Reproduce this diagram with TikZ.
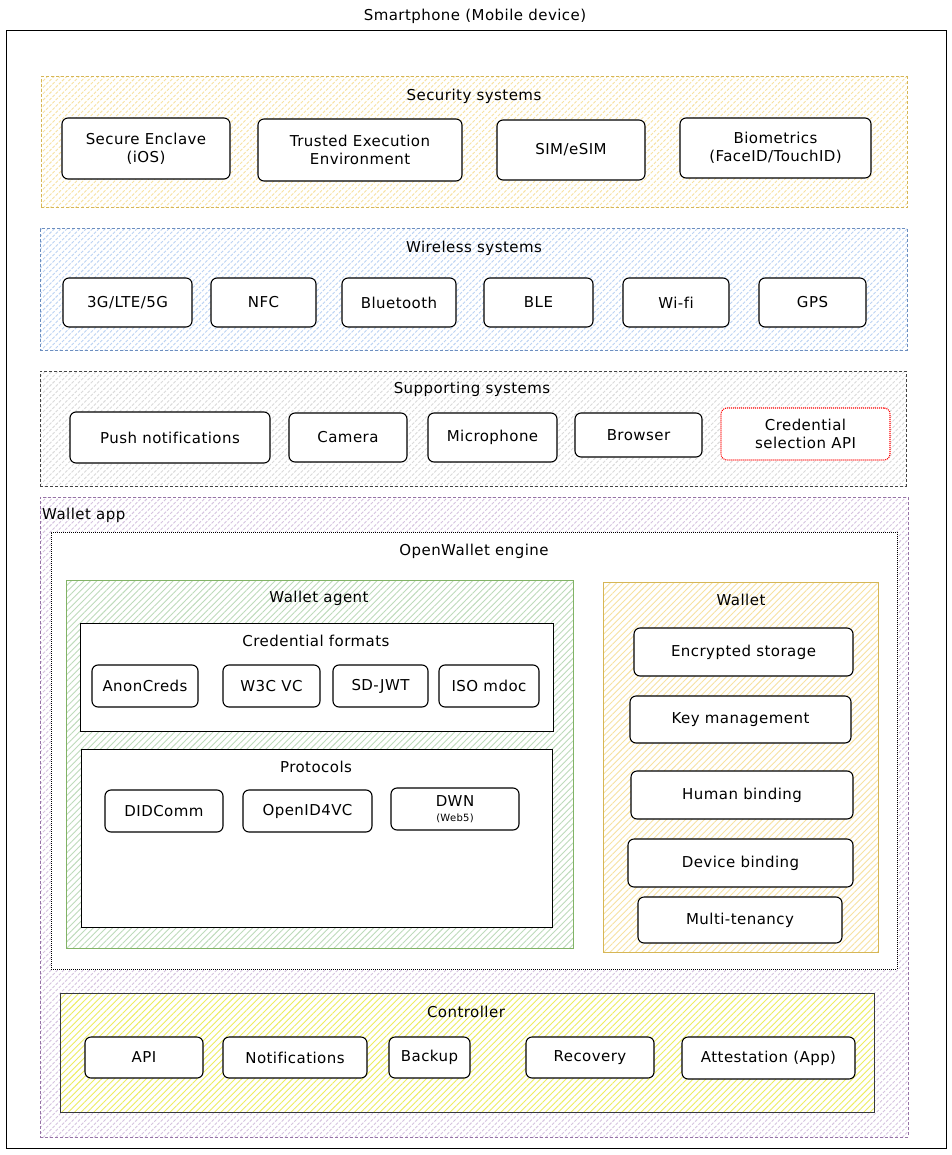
\documentclass[tikz,border=0pt]{standalone}
\usepackage{fontspec}
\setmainfont{DejaVu Sans}[LetterSpace=3, Ligatures=NoCommon]
\usetikzlibrary{patterns.meta}

% frame colours and hatch colours of the layers
\definecolor{yelLine}{HTML}{D6B656}
\definecolor{yelHatch}{HTML}{F7E2A2}
\definecolor{bluLine}{HTML}{6C8EBF}
\definecolor{bluHatch}{HTML}{BCD3F3}
\definecolor{gryLine}{HTML}{444444}
\definecolor{gryHatch}{HTML}{DADADA}
\definecolor{purLine}{HTML}{9673A6}
\definecolor{purHatch}{HTML}{D6C3E0}
\definecolor{grnLine}{HTML}{82B366}
\definecolor{grnHatch}{HTML}{BEDBBB}
\definecolor{ctlLine}{HTML}{36393D}
\definecolor{ctlHatch}{HTML}{EDED60}
\definecolor{apiRed}{HTML}{FF0000}

\tikzset{
  item/.style={draw=black, line width=1.1pt, rounded corners=6pt, fill=white,
    inner sep=0pt, outer sep=0pt, align=center},
  sz/.style 2 args={minimum width=#1pt, minimum height=#2pt},
  layer/.style={anchor=north west, inner sep=0pt, outer sep=0pt, line width=1pt},
  hatchlines/.style={pattern={Lines[angle=45,distance=4.5pt,line width=0.9pt]}},
  hatched/.style={preaction={fill=white}, hatchlines, pattern color=#1},
  dashline/.style={dash pattern=on 3pt off 2pt},
  dotline/.style={dash pattern=on 1pt off 1pt},
  heading/.style={inner sep=0pt, anchor=center},
}

\begin{document}
\begin{tikzpicture}[x=1pt, y=-1pt, font=\fontsize{15}{18}\selectfont]
\useasboundingbox (0,0) rectangle (951,1155);
\fill[white] (0,0) rectangle (951,1155);

% device outline
\node[layer, draw=black, fill=white, sz={940}{1117}] (phone) at (6,31) {};
\node[heading] (phoneT) at (475,16) {Smartphone (Mobile device)};

% security layer
\node[layer, draw=yelLine, dashline, hatched=yelHatch, sz={866}{131}] (sec) at (41,77) {};
\node[heading] (secT) at (474,96) {Security systems};
\node[item, sz={168}{61}] (enclave) at (146,148.5) {Secure Enclave\\(iOS)};
\node[item, sz={204}{62}] (tee) at (360,150) {Trusted Execution\\Environment};
\node[item, sz={148}{60}] (sim) at (571,150) {SIM/eSIM};
\node[item, sz={191}{60}] (bio) at (775.5,148) {Biometrics\\(FaceID/TouchID)};

% wireless layer
\node[layer, draw=bluLine, dashline, hatched=bluHatch, sz={867}{121}] (wless) at (40,229) {};
\node[heading] (wlessT) at (474,248) {Wireless systems};
\node[item, sz={129}{49}] (cell) at (127.5,302.5) {3G/LTE/5G};
\node[item, sz={105}{49}] (nfc) at (263.5,302.5) {NFC};
\node[item, sz={114}{49}] (bt) at (399,302.5) {Bluetooth};
\node[item, sz={109}{49}] (ble) at (538.5,302.5) {BLE};
\node[item, sz={106}{49}] (wifi) at (676,302.5) {Wi-f{}i};
\node[item, sz={107}{49}] (gps) at (812.5,302.5) {GPS};

% supporting layer
\node[layer, draw=gryLine, dashline, hatched=gryHatch, sz={866}{115}] (supp) at (40,371) {};
\node[heading] (suppT) at (472,389) {Supporting systems};
\node[item, sz={200}{51}] (push) at (170,437.5) {Push notif{}ications};
\node[item, sz={118}{49}] (cam) at (348,437.5) {Camera};
\node[item, sz={129}{49}] (mic) at (492.5,437.5) {Microphone};
\node[item, sz={127}{44}] (brw) at (638.5,435) {Browser};
\node[item, draw=apiRed, dotline, sz={169}{52}] (csapi) at (805.5,434) {Credential\\selection API};

% wallet app
\node[layer, draw=purLine, dashline, hatched=purHatch, sz={868}{640}] (app) at (40,497) {};
\node[inner sep=0pt, anchor=west] (appT) at (42,515) {Wallet app};

% engine
\node[layer, draw=black, dotline, fill=white, sz={846}{437}] (engine) at (51,532) {};
\node[heading] (engineT) at (474,551) {OpenWallet engine};

% wallet agent
\node[layer, draw=grnLine, hatched=grnHatch, sz={507}{368}] (agent) at (66,580) {};
\node[heading] (agentT) at (319,598) {Wallet agent};

\node[layer, draw=black, fill=white, sz={473}{108}] (fmt) at (80,623) {};
\node[heading] (fmtT) at (316,641) {Credential formats};
\node[item, sz={106}{42}] (anon) at (145,686) {AnonCreds};
\node[item, sz={97}{42}] (w3c) at (271.5,686) {W3C VC};
\node[item, sz={95}{42}] (sdjwt) at (380.5,686) {SD-JWT};
\node[item, sz={100}{42}] (iso) at (489,686) {ISO mdoc};

\node[layer, draw=black, fill=white, sz={471}{178}] (proto) at (81,749) {};
\node[heading] (protoT) at (316,767) {Protocols};
\node[item, sz={118}{42}] (didc) at (164,811) {DIDComm};
\node[item, sz={129}{42}] (oid) at (307.5,811) {OpenID4VC};
\node[item, sz={128}{42}] (dwn) at (455,809)
  {DWN\\[-3pt]{\fontsize{10}{11}\selectfont (Web5)}};

% wallet core
\node[layer, draw=yelLine, hatched=yelHatch, sz={275}{370}] (wallet) at (603,582) {};
\node[heading] (walletT) at (741,600) {Wallet};
\node[item, sz={219}{48}] (enc) at (743.5,652) {Encrypted storage};
\node[item, sz={221}{47}] (keym) at (740.5,719.5) {Key management};
\node[item, sz={222}{48}] (hum) at (742,795) {Human binding};
\node[item, sz={225}{48}] (devb) at (740.5,863) {Device binding};
\node[item, sz={204}{46}] (mten) at (740,920) {Multi-tenancy};

% controller
\node[layer, draw=ctlLine, hatched=ctlHatch, sz={814}{119}] (ctl) at (60,993) {};
\node[heading] (ctlT) at (466,1012) {Controller};
\node[item, sz={118}{41}] (api) at (144,1057.5) {API};
\node[item, sz={144}{41}] (notif) at (295,1057.5) {Notif{}ications};
\node[item, sz={81}{41}] (backup) at (429.5,1057.5) {Backup};
\node[item, sz={128}{41}] (recov) at (590,1057.5) {Recovery};
\node[item, sz={173}{42}] (attest) at (768.5,1058) {Attestation (App)};
\end{tikzpicture}
\end{document}
